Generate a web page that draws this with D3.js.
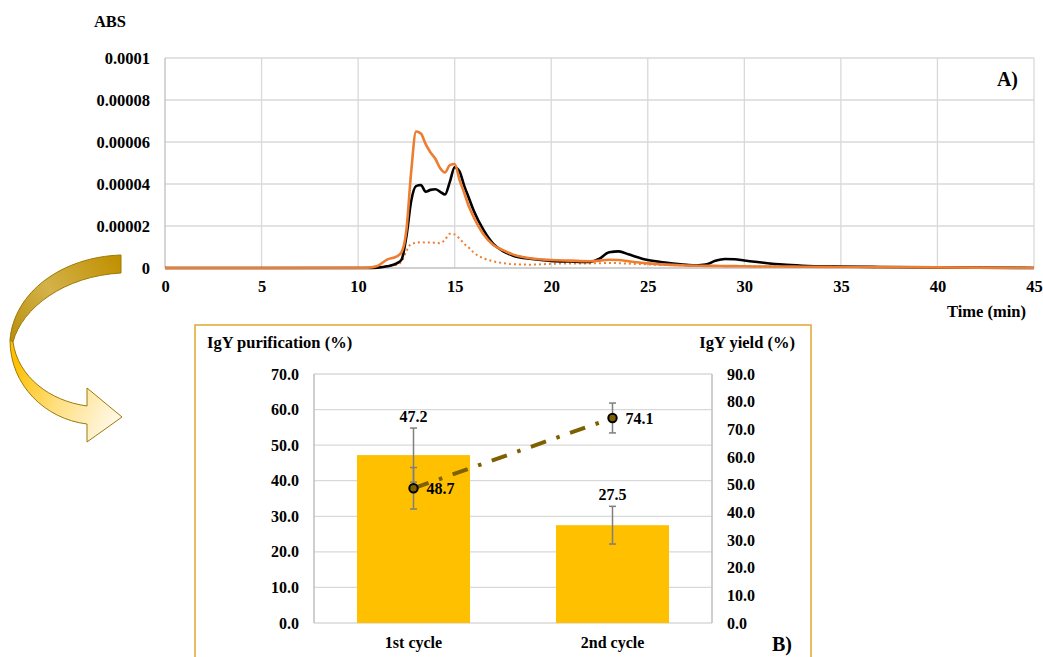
<!DOCTYPE html>
<html>
<head>
<meta charset="utf-8">
<script src="https://cdn.jsdelivr.net/npm/d3@7"></script>
<style>
  html, body { margin: 0; padding: 0; background: #fff; }
  svg { display: block; }
</style>
</head>
<body>
<svg id="fig" width="1043" height="657" font-family="'Liberation Serif', Tinos, 'Times New Roman', 'DejaVu Serif', serif" font-weight="bold"></svg>
<script>
// ---- A) chromatogram: retention time (min) vs absorbance ----
const times = [0, 5, 10, 10.5, 11, 11.5, 12, 12.25, 12.5, 12.75, 13, 13.25, 13.5, 13.75, 14, 14.25,
  14.5, 14.75, 15, 15.25, 15.5, 15.75, 16, 16.5, 17, 17.5, 18, 19, 20, 21, 22, 22.5, 23, 23.5, 24,
  25, 26, 27, 27.5, 28, 28.5, 29, 29.5, 30, 31, 32, 33, 35, 37, 40, 42, 45];
const absBlack = [0, 0, 0, 0, 0.2e-6, 0.8e-6, 2.2e-6, 4e-6, 15e-6, 32e-6, 39e-6, 39.5e-6, 36.3e-6,
  37.2e-6, 37.5e-6, 36.3e-6, 35e-6, 41e-6, 48e-6, 46e-6, 39e-6, 33e-6, 27e-6, 18e-6, 11.5e-6, 8e-6,
  6e-6, 4.3e-6, 3.4e-6, 3.1e-6, 2.9e-6, 4.5e-6, 7.5e-6, 7.9e-6, 6.5e-6, 3.8e-6, 2.5e-6, 1.5e-6,
  1.2e-6, 1.6e-6, 3.4e-6, 4.3e-6, 4.2e-6, 3.6e-6, 2.5e-6, 1.6e-6, 1.1e-6, 0.7e-6, 0.5e-6, 0.3e-6,
  0.2e-6, 0];
const absOrange = [0, 0, 0.1e-6, 0.2e-6, 1e-6, 4e-6, 5.5e-6, 7.5e-6, 18e-6, 46e-6, 65e-6, 64e-6, 59e-6,
  55e-6, 52e-6, 47.5e-6, 45.5e-6, 49e-6, 49.5e-6, 42e-6, 35.6e-6, 29e-6, 24e-6, 16e-6, 11e-6, 8.5e-6,
  6.5e-6, 4.5e-6, 3.8e-6, 3.5e-6, 3.2e-6, 3.5e-6, 3.9e-6, 3.8e-6, 3.2e-6, 2.2e-6, 1.6e-6, 1.2e-6,
  1.1e-6, 1e-6, 1e-6, 0.9e-6, 0.9e-6, 0.8e-6, 0.7e-6, 0.7e-6, 0.6e-6, 0.5e-6, 0.4e-6, 0.3e-6,
  0.2e-6, 0.1e-6];
const absOrangeDotted = [0, 0, 0, 0, 0.3e-6, 0.8e-6, 1.5e-6, 3e-6, 8e-6, 11.5e-6, 12e-6, 12.3e-6,
  12.1e-6, 12.2e-6, 12e-6, 11.8e-6, 13.5e-6, 16.3e-6, 16e-6, 14e-6, 11.5e-6, 9.5e-6, 7.2e-6, 4.6e-6,
  3.2e-6, 2.3e-6, 1.8e-6, 1.6e-6, 2e-6, 2.2e-6, 2.2e-6, 2.3e-6, 2.4e-6, 2.3e-6, 2.1e-6, 1.7e-6,
  1.4e-6, 1.2e-6, 1.1e-6, 1.1e-6, 1e-6, 1e-6, 0.9e-6, 0.9e-6, 0.8e-6, 0.7e-6, 0.6e-6, 0.5e-6,
  0.4e-6, 0.3e-6, 0.2e-6, 0.1e-6];
const timeTicks = [0, 5, 10, 15, 20, 25, 30, 35, 40, 45];
const absTicks = [0, 0.00002, 0.00004, 0.00006, 0.00008, 0.0001];
const absTickLabels = ["0", "0.00002", "0.00004", "0.00006", "0.00008", "0.0001"];

// ---- B) purification and yield per cycle ----
const cycles = ["1st cycle", "2nd cycle"];
const purification = [47.2, 27.5];
const purificationErr = [7.6, 5.3];
const yieldPct = [48.7, 74.1];
const yieldErr = [7.5, 5.4];
const purTicks = [0, 10, 20, 30, 40, 50, 60, 70];
const yieldTicks = [0, 10, 20, 30, 40, 50, 60, 70, 80, 90];

const FONT = "'Liberation Serif', Tinos, 'Times New Roman', 'DejaVu Serif', serif";
const svg = d3.select("#fig");
const gridColor = "#d9d9d9";
const axisColor = "#bfbfbf";
const orange = "#ed7d31";

// axis tick text styling shared by all axes
function styleTicks(sel, size) {
  sel.attr("font-family", FONT).attr("font-weight", "bold");
  sel.selectAll("text").attr("font-size", size).attr("fill", "#000");
}

// ================= Panel A =================
const xA = d3.scaleLinear().domain([0, 45]).range([165, 1034]);
const yA = d3.scaleLinear().domain([0, 0.0001]).range([268, 58]);
const gA = svg.append("g");

gA.append("g").selectAll("line").data(absTicks.slice(1)).join("line")
  .attr("x1", xA(0)).attr("x2", xA(45))
  .attr("y1", d => yA(d)).attr("y2", d => yA(d))
  .attr("stroke", gridColor).attr("stroke-width", 1.3);
gA.append("g").selectAll("line").data(timeTicks.slice(1)).join("line")
  .attr("x1", d => xA(d)).attr("x2", d => xA(d))
  .attr("y1", yA(0)).attr("y2", yA(0.0001))
  .attr("stroke", gridColor).attr("stroke-width", 1.3);
gA.append("line").attr("x1", xA(0)).attr("x2", xA(0)).attr("y1", yA(0)).attr("y2", yA(0.0001))
  .attr("stroke", axisColor).attr("stroke-width", 1.3);
gA.append("line").attr("x1", xA(0)).attr("x2", xA(45)).attr("y1", yA(0)).attr("y2", yA(0))
  .attr("stroke", axisColor).attr("stroke-width", 1.3);

const yAxisA = d3.axisLeft(yA).tickValues(absTicks)
  .tickFormat((d, i) => absTickLabels[i]).tickSize(0).tickPadding(15);
gA.append("g").attr("transform", `translate(${xA(0)},0)`).call(yAxisA)
  .call(g => g.select(".domain").remove())
  .call(g => styleTicks(g, 16.5));

const xAxisA = d3.axisBottom(xA).tickValues(timeTicks).tickSize(0).tickPadding(12);
gA.append("g").attr("transform", `translate(0,${yA(0)})`).call(xAxisA)
  .call(g => g.select(".domain").remove())
  .call(g => styleTicks(g, 16.5));

const lineA = vals => d3.line()
  .x((d, i) => xA(times[i]))
  .y(d => yA(d))
  .curve(d3.curveMonotoneX)(vals);

gA.append("path").attr("d", lineA(absOrangeDotted)).attr("fill", "none")
  .attr("stroke", orange).attr("stroke-width", 2).attr("stroke-dasharray", "2,3");
gA.append("path").attr("d", lineA(absBlack)).attr("fill", "none")
  .attr("stroke", "#000").attr("stroke-width", 2.6).attr("stroke-linejoin", "round");
gA.append("path").attr("d", lineA(absOrange)).attr("fill", "none")
  .attr("stroke", orange).attr("stroke-width", 2.6).attr("stroke-linejoin", "round");

gA.append("text").attr("x", 110).attr("y", 27).attr("text-anchor", "middle")
  .attr("font-size", 16.5).text("ABS");
gA.append("text").attr("x", 1026).attr("y", 317).attr("text-anchor", "end")
  .attr("font-size", 16.5).text("Time (min)");
gA.append("text").attr("x", 1018).attr("y", 86).attr("text-anchor", "end")
  .attr("font-size", 20).text("A)");

// ================= Curved arrow linking A) to B) =================
const defs = svg.append("defs");
const gTop = defs.append("linearGradient").attr("id", "ribbonBack")
  .attr("gradientUnits", "userSpaceOnUse")
  .attr("x1", 121).attr("y1", 262).attr("x2", 10).attr("y2", 340);
gTop.append("stop").attr("offset", 0).attr("stop-color", "#c09000");
gTop.append("stop").attr("offset", 0.55).attr("stop-color", "#d4b24a");
gTop.append("stop").attr("offset", 1).attr("stop-color", "#b8900c");
const gBot = defs.append("linearGradient").attr("id", "ribbonFront")
  .attr("gradientUnits", "userSpaceOnUse")
  .attr("x1", 12).attr("y1", 370).attr("x2", 122).attr("y2", 420);
gBot.append("stop").attr("offset", 0).attr("stop-color", "#ffc000");
gBot.append("stop").attr("offset", 0.45).attr("stop-color", "#ffdf80");
gBot.append("stop").attr("offset", 1).attr("stop-color", "#fffaee");

const arrow = svg.append("g").attr("stroke", "#9c7a08").attr("stroke-width", 1)
  .attr("stroke-linejoin", "round");
arrow.append("path")
  .attr("d", "M121,255 C62,257 14,292 10,340 L13,342 C22,308 64,276 121,273 Z")
  .attr("fill", "url(#ribbonBack)");
arrow.append("path")
  .attr("d", "M10,340 C10,385 45,419 87,424 L87,442 L122,417 L87,388 L87,406 C50,401 18,377 13,342 Z")
  .attr("fill", "url(#ribbonFront)");

// ================= Panel B =================
const gB = svg.append("g");
gB.append("rect").attr("x", 195).attr("y", 325).attr("width", 616).attr("height", 345)
  .attr("fill", "#fff").attr("stroke", "#e0a830").attr("stroke-width", 1.5);

const xB = d3.scaleBand().domain(cycles).range([314, 712]).paddingInner(0.432).paddingOuter(0.216);
const yL = d3.scaleLinear().domain([0, 70]).range([623, 374]);
const yR = d3.scaleLinear().domain([0, 90]).range([623, 374]);

gB.append("g").selectAll("line").data(purTicks.slice(1)).join("line")
  .attr("x1", 314).attr("x2", 712)
  .attr("y1", d => yL(d)).attr("y2", d => yL(d))
  .attr("stroke", gridColor).attr("stroke-width", 1.3);
gB.append("line").attr("x1", 314).attr("x2", 712).attr("y1", yL(0)).attr("y2", yL(0))
  .attr("stroke", gridColor).attr("stroke-width", 1.3);
gB.append("line").attr("x1", 314).attr("x2", 314).attr("y1", yL(0)).attr("y2", yL(70))
  .attr("stroke", axisColor).attr("stroke-width", 1.5);
gB.append("line").attr("x1", 712).attr("x2", 712).attr("y1", yL(0)).attr("y2", yL(70))
  .attr("stroke", axisColor).attr("stroke-width", 1.5);

const leftAxis = d3.axisLeft(yL).tickValues(purTicks).tickFormat(d3.format(".1f"))
  .tickSize(0).tickPadding(15);
gB.append("g").attr("transform", "translate(314,0)").call(leftAxis)
  .call(g => g.select(".domain").remove())
  .call(g => styleTicks(g, 16));
const rightAxis = d3.axisRight(yR).tickValues(yieldTicks).tickFormat(d3.format(".1f"))
  .tickSize(0).tickPadding(15);
gB.append("g").attr("transform", "translate(712,0)").call(rightAxis)
  .call(g => g.select(".domain").remove())
  .call(g => styleTicks(g, 16));
const bottomAxis = d3.axisBottom(xB).tickSize(0).tickPadding(14);
gB.append("g").attr("transform", `translate(0,${yL(0)})`).call(bottomAxis)
  .call(g => g.select(".domain").remove())
  .call(g => styleTicks(g, 16));

// bars
gB.append("g").selectAll("rect").data(purification).join("rect")
  .attr("x", (d, i) => xB(cycles[i])).attr("width", xB.bandwidth())
  .attr("y", d => yL(d)).attr("height", d => yL(0) - yL(d))
  .attr("fill", "#ffc000");

// error bars helper
function errorBar(g, cx, yTop, yBot) {
  g.append("line").attr("x1", cx).attr("x2", cx).attr("y1", yTop).attr("y2", yBot);
  g.append("line").attr("x1", cx - 3.5).attr("x2", cx + 3.5).attr("y1", yTop).attr("y2", yTop);
  g.append("line").attr("x1", cx - 3.5).attr("x2", cx + 3.5).attr("y1", yBot).attr("y2", yBot);
}
const errG = gB.append("g").attr("stroke", "#7f7f7f").attr("stroke-width", 1.5);
purification.forEach((v, i) => {
  const cx = xB(cycles[i]) + xB.bandwidth() / 2;
  errorBar(errG, cx, yL(v + purificationErr[i]), yL(v - purificationErr[i]));
});
yieldPct.forEach((v, i) => {
  const cx = xB(cycles[i]) + xB.bandwidth() / 2;
  errorBar(errG, cx, yR(v + yieldErr[i]), yR(v - yieldErr[i]));
});

// bar value labels
gB.append("g").selectAll("text").data(purification).join("text")
  .attr("x", (d, i) => xB(cycles[i]) + xB.bandwidth() / 2)
  .attr("y", (d, i) => yL(d + purificationErr[i]) - 6)
  .attr("text-anchor", "middle").attr("font-size", 16)
  .text(d => d3.format(".1f")(d));

// yield line
const cxOf = i => xB(cycles[i]) + xB.bandwidth() / 2;
gB.append("path")
  .attr("d", d3.line().x((d, i) => cxOf(i)).y(d => yR(d))(yieldPct))
  .attr("fill", "none").attr("stroke", "#7f6000").attr("stroke-width", 4)
  .attr("stroke-dasharray", "16,11,3.5,11");
gB.append("g").selectAll("circle").data(yieldPct).join("circle")
  .attr("cx", (d, i) => cxOf(i)).attr("cy", d => yR(d)).attr("r", 4.2)
  .attr("fill", "#7f6000").attr("stroke", "#000").attr("stroke-width", 2);
gB.append("g").selectAll("text").data(yieldPct).join("text")
  .attr("x", (d, i) => cxOf(i) + 13).attr("y", d => yR(d)).attr("dy", "0.35em")
  .attr("font-size", 16)
  .text(d => d3.format(".1f")(d));

gB.append("text").attr("x", 207).attr("y", 348).attr("font-size", 16.5).text("IgY purification (%)");
gB.append("text").attr("x", 795).attr("y", 348).attr("text-anchor", "end")
  .attr("font-size", 16.5).text("IgY yield (%)");
gB.append("text").attr("x", 792).attr("y", 651).attr("text-anchor", "end")
  .attr("font-size", 20).text("B)");
</script>
</body>
</html>
